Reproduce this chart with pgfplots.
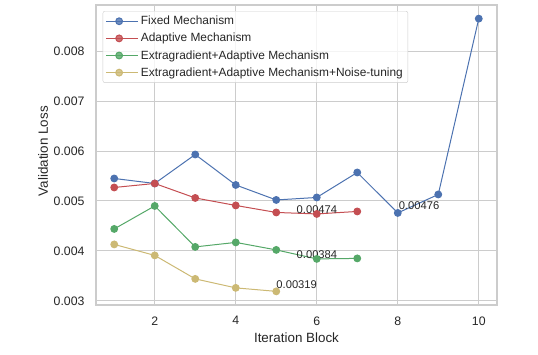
\documentclass[border=0pt]{standalone}
\usepackage{pgfplots}
\pgfplotsset{compat=1.18}
\usepackage{fontspec}
\setmainfont{Liberation Sans}
\definecolor{sbblue}{HTML}{4C72B0}
\definecolor{sbred}{HTML}{C44E52}
\definecolor{sbgreen}{HTML}{55A868}
\definecolor{sbyellow}{HTML}{CCB974}
\definecolor{gridgray}{HTML}{CCCCCC}
\definecolor{txt}{HTML}{262626}
\begin{document}
\begin{tikzpicture}[x=1pt,y=1pt]
\path (-96,-49) rectangle (442,305);
\begin{axis}[
  at={(0,0)}, anchor=south west,
  scale only axis, width=401pt, height=300pt,
  xmin=0.55, xmax=10.45, ymin=0.002917, ymax=0.008923,
  xtick={2,4,6,8,10},
  ytick={0.003,0.004,0.005,0.006,0.007,0.008},
  yticklabels={0.003,0.004,0.005,0.006,0.007,0.008},
  scaled y ticks=false,
  /pgf/number format/assume math mode=true,
  tick style={draw=none},
  major tick length=0pt,
  grid=major,
  major grid style={draw=gridgray, line width=1pt},
  axis line style={draw=gridgray, line width=1.25pt},
  ticklabel style={font=\fontsize{12.3}{14}\selectfont, text=txt},
  xticklabel style={yshift=-8pt},
  yticklabel style={xshift=-8pt},
  xlabel={Iteration Block},
  ylabel={Validation Loss},
  label style={font=\fontsize{13.4}{16}\selectfont, text=txt},
  xlabel style={at={(axis description cs:0.5,-0.1083)}, anchor=center},
  ylabel style={at={(axis description cs:-0.1322,0.513)}, anchor=center, rotate=0},
  legend cell align=left,
  legend style={at={(axis description cs:0.0168,0.98)}, anchor=north west,
    draw=gridgray, rounded corners=2pt, fill=white, fill opacity=0.8, text opacity=1,
    font=\fontsize{11.9}{14}\selectfont, text=txt, row sep=3pt,
    inner xsep=3pt, inner ysep=3pt},
  legend image code/.code={
    \path (0pt,0pt) -- (32pt,0pt);
    \draw[mark repeat=2,mark phase=2] plot coordinates {(0pt,0pt) (12.7pt,0pt) (25.4pt,0pt)};},
  every axis plot/.append style={line width=1pt, mark=*, mark size=3.4pt},
]
\addplot[color=sbblue, mark options={fill=sbblue, draw=sbblue}] coordinates {
 (1,0.00545) (2,0.00535) (3,0.00593) (4,0.00532) (5,0.00502)
 (6,0.00507) (7,0.00557) (8,0.00476) (9,0.00513) (10,0.00865)};
\addlegendentry{Fixed Mechanism}
\addplot[color=sbred, mark options={fill=sbred, draw=sbred}] coordinates {
 (1,0.00527) (2,0.00535) (3,0.00506) (4,0.00491) (5,0.00477)
 (6,0.00474) (7,0.00479)};
\addlegendentry{Adaptive Mechanism}
\addplot[color=sbgreen, mark options={fill=sbgreen, draw=sbgreen}] coordinates {
 (1,0.00444) (2,0.00490) (3,0.00408) (4,0.00417) (5,0.00402)
 (6,0.00384) (7,0.00385)};
\addlegendentry{Extragradient+Adaptive Mechanism}
\addplot[color=sbyellow, mark options={fill=sbyellow, draw=sbyellow}] coordinates {
 (1,0.00413) (2,0.00391) (3,0.00344) (4,0.00326) (5,0.00319)};
\addlegendentry{Extragradient+Adaptive Mechanism+Noise-tuning}
\begin{scope}[every node/.style={anchor=base west, inner sep=0pt, font=\fontsize{11.2}{13}\selectfont, text=txt}]
\node at (axis cs:5.5,0.00474) {0.00474};
\node at (axis cs:5.5,0.00384) {0.00384};
\node at (axis cs:8.02,0.00482) {0.00476};
\node at (axis cs:5.0,0.00325) {0.00319};
\end{scope}
\end{axis}
\end{tikzpicture}
\end{document}
